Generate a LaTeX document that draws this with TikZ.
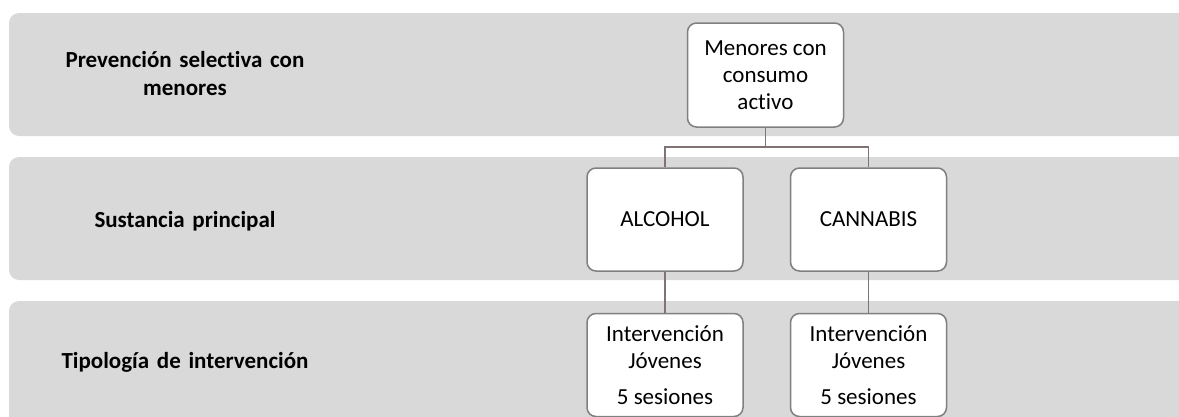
\documentclass[tikz,border=0pt]{standalone}
\usepackage{fontspec}
\setmainfont{Carlito}[Ligatures=NoCommon]
\usetikzlibrary{positioning}

\definecolor{bandgray}{RGB}{217,217,217}
\definecolor{linkgray}{RGB}{128,115,115}
\definecolor{boxgray}{RGB}{128,128,128}

\newcommand*{\bandL}{9}
\newcommand*{\bandR}{1220}
\newcommand*{\labelX}{185}

\tikzset{
  band/.style={fill=bandgray, rounded corners=10pt},
  rowlabel/.style={font=\bfseries\fontsize{23}{28}\selectfont, align=center, text width=300pt},
  itembox/.style={draw=boxgray, line width=1.5pt, fill=white, rounded corners=9pt,
    minimum width=156pt, minimum height=103pt, align=center, inner sep=2pt,
    font=\fontsize{23}{27}\selectfont},
  link/.style={draw=linkgray, line width=1.5pt}
}

\begin{document}
\begin{tikzpicture}[x=1pt,y=-1pt]
	\clip (0,0) rectangle (1179,416);
	
	% filas
	\foreach \top/\bot in {13/136, 157/280, 301/440} {
		\fill[band] (\bandL,\top) rectangle (\bandR,\bot);
	}
	
	\node[rowlabel] (lblprev) at (\labelX,74) {Prevención selectiva con\\menores};
	\node[rowlabel] (lblsust) at (\labelX,221) {Sustancia principal};
	\node[rowlabel] (lbltipo) at (\labelX,362) {Tipología de intervención};
	
	% cajas
	\node[itembox, minimum height=104pt] (menores) at (765.5,75) {Menores con\\consumo\\activo};
	\node[itembox] (alcohol) at (665,219.5) {ALCOHOL};
	\node[itembox, right=46pt of alcohol] (cannabis) {CANNABIS};
	\node[itembox, below=41pt of alcohol] (intalc) {Intervención\\Jóvenes\\[9pt]5 sesiones};
	\node[itembox, below=41pt of cannabis] (intcan) {Intervención\\Jóvenes\\[9pt]5 sesiones};
	
	% conectores
	\coordinate (split) at (765.5,147);
	\draw[link] (menores.south) -- (split);
	\draw[link] (split) -| (alcohol.north);
	\draw[link] (split) -| (cannabis.north);
	\draw[link] (alcohol.south) -- (intalc.north);
	\draw[link] (cannabis.south) -- (intcan.north);
\end{tikzpicture}
\end{document}
